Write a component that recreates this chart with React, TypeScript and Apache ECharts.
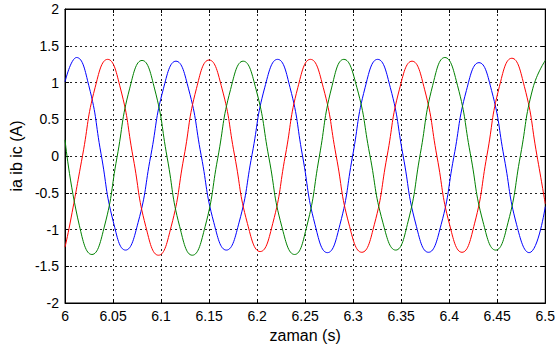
import React, { useEffect, useRef } from "react";
import * as echarts from "echarts";

// time (s), current (A)
const iaBlue: [number, number][] = [
  [6.0, 1.01], [6.012, 1.34], [6.0248, 0.956], [6.0375, 0.03], [6.0503, -0.896],
  [6.063, -1.28], [6.0761, -0.904], [6.0893, 0.005], [6.1024, 0.914], [6.1155, 1.29],
  [6.1286, 0.914], [6.1418, 0.005], [6.1549, -0.904], [6.168, -1.28], [6.1813, -0.9],
  [6.1947, 0.018], [6.208, 0.935], [6.2213, 1.315], [6.2343, 0.93], [6.2473, 0.0],
  [6.2602, -0.93], [6.2732, -1.315], [6.2863, -0.93], [6.2994, 0.0], [6.3124, 0.93],
  [6.3255, 1.315], [6.3387, 0.93], [6.352, 0.003], [6.3652, -0.925], [6.3784, -1.31],
  [6.3916, -0.932], [6.4047, -0.02], [6.4179, 0.892], [6.431, 1.27], [6.4441, 0.891],
  [6.4572, -0.023], [6.4702, -0.936], [6.4833, -1.315], [6.5, -0.69],
];

const ibRed: [number, number][] = [
  [6.0, -1.24], [6.0051, -0.925], [6.0182, 0.003], [6.0313, 0.93], [6.0444, 1.315],
  [6.0576, 0.925], [6.0709, -0.018], [6.0841, -0.96], [6.0973, -1.35], [6.1105, -0.961],
  [6.1237, -0.022], [6.1368, 0.917], [6.15, 1.306], [6.1633, 0.924], [6.1766, 0.003],
  [6.1899, -0.918], [6.2032, -1.3], [6.2163, -0.917], [6.2294, 0.008], [6.2424, 0.932],
  [6.2555, 1.315], [6.2689, 0.93], [6.2823, 0.003], [6.2956, -0.925], [6.309, -1.31],
  [6.3221, -0.929], [6.3352, -0.01], [6.3482, 0.909], [6.3613, 1.29], [6.3743, 0.909],
  [6.3873, -0.01], [6.4003, -0.929], [6.4133, -1.31], [6.4263, -0.923], [6.4393, 0.01],
  [6.4522, 0.943], [6.4652, 1.33], [6.4783, 0.943], [6.4913, 0.01], [6.5, -0.65],
];

const icGreen: [number, number][] = [
  [6.0, 0.22], [6.015, -0.95], [6.028, -1.34], [6.0411, -0.953], [6.0541, -0.02],
  [6.0672, 0.913], [6.0802, 1.3], [6.0933, 0.912], [6.1064, -0.025], [6.1194, -0.962],
  [6.1325, -1.35], [6.1458, -0.963], [6.159, -0.03], [6.1723, 0.903], [6.1855, 1.29],
  [6.1989, 0.905], [6.2123, -0.025], [6.2256, -0.955], [6.239, -1.34], [6.2518, -0.951],
  [6.2647, -0.013], [6.2775, 0.926], [6.2903, 1.315], [6.3038, 0.935], [6.3173, 0.018],
  [6.3308, -0.9], [6.3443, -1.28], [6.3571, -0.896], [6.3699, 0.03], [6.3827, 0.956],
  [6.3955, 1.34], [6.4087, 0.956], [6.422, 0.03], [6.4352, -0.896], [6.4484, -1.28],
  [6.4613, -0.902], [6.4742, 0.01], [6.4871, 0.922], [6.5, 1.3],
];

const xLabel = "zaman (s)";
const yLabel = "ia ib ic (A)";

export default function App() {
  const ref = useRef<HTMLDivElement>(null);
  useEffect(() => {
    if (!ref.current) return;
    const chart = echarts.init(ref.current, null, { renderer: "svg" });
    const font = "Liberation Sans, Arial, sans-serif";
    const gridLine = { show: true, lineStyle: { color: "#222", type: [2, 3] as any, width: 1 } };
    const fmt = (v: number) => String(+v.toFixed(2));
    const axisLine = { show: true, onZero: false, lineStyle: { color: "#000" } };
    const tick = { show: true, inside: true, length: 4, lineStyle: { color: "#000" } };
    const mkSeries = (name: string, data: [number, number][], color: string) => ({
      name,
      type: "line",
      data,
      smooth: 0.5,
      showSymbol: false,
      symbol: "none",
      lineStyle: { color, width: 1 },
      itemStyle: { color },
      xAxisIndex: 0,
      yAxisIndex: 0,
    });
    chart.setOption({
      animation: false,
      backgroundColor: "#fff",
      textStyle: { fontFamily: font },
      grid: { left: 60, right: 10, top: 9, bottom: 51, show: true, borderColor: "#000", borderWidth: 1, backgroundColor: "transparent" },
      xAxis: [
        {
          type: "value", min: 6, max: 6.5, interval: 0.05,
          name: xLabel, nameLocation: "middle", nameGap: 19,
          nameTextStyle: { fontSize: 16, color: "#000", fontFamily: font },
          axisLine, axisTick: tick,
          axisLabel: { color: "#000", fontSize: 14, margin: 6, fontFamily: font, formatter: fmt },
          splitLine: gridLine,
        },
        {
          type: "value", min: 6, max: 6.5, interval: 0.05, position: "top",
          axisLine, axisTick: tick,
          axisLabel: { show: false },
          splitLine: { show: false },
        },
      ],
      yAxis: [
        {
          type: "value", min: -2, max: 2, interval: 0.5,
          name: yLabel, nameLocation: "middle", nameGap: 35, nameRotate: 90,
          nameTextStyle: { fontSize: 16, color: "#000", fontFamily: font },
          axisLine, axisTick: tick,
          axisLabel: { color: "#000", fontSize: 14, margin: 6, fontFamily: font, formatter: fmt },
          splitLine: gridLine,
        },
        {
          type: "value", min: -2, max: 2, interval: 0.5, position: "right",
          axisLine, axisTick: tick,
          axisLabel: { show: false },
          splitLine: { show: false },
        },
      ],
      series: [
        mkSeries("ia", iaBlue, "#0000ff"),
        mkSeries("ib", ibRed, "#ff0000"),
        mkSeries("ic", icGreen, "#008000"),
      ],
    });
    return () => chart.dispose();
  }, []);
  return <div ref={ref} style={{ width: 558, height: 354, position: "absolute", left: 0, top: 0 }} />;
}
